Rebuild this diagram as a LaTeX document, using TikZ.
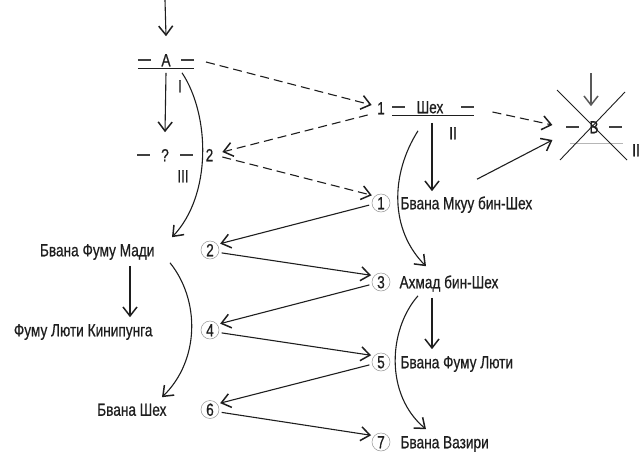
\documentclass[tikz,border=0pt]{standalone}
\usepackage{fontspec}
\setmainfont{Liberation Sans}[FakeStretch=0.78, FakeBold=0.6]
\usetikzlibrary{arrows.meta}
\definecolor{inkgray}{RGB}{30,30,30}
\definecolor{ringgray}{RGB}{150,150,150}

\begin{document}
\begin{tikzpicture}[x=1pt, y=-1pt, line width=1.1pt, inkgray,
				>={Straight Barb[length=9pt, width=14pt, line width=1.5pt]},
				lbl/.style={inner sep=2pt, text height=12.5pt, text depth=0pt, font=\fontsize{17.5pt}{20pt}\selectfont},
				xref/.style={lbl, minimum width=#1},
				num/.style={lbl, circle, draw=ringgray, line width=0.5pt, minimum size=18pt, inner sep=0pt, outer sep=3pt},
				link/.style={->},
				hint/.style={->, dash pattern=on 9pt off 5pt}]
				\useasboundingbox (0,0) rectangle (641,453);
				
				% upper part
				\coordinate (A-top) at (165,0);
				\coordinate (B-top) at (591,73);
				\node[xref=55pt] (A) at (166,60) {A};
				\node[xref=54pt] (q) at (165,155) {?};
				\node[lbl] (two) at (209.5,155) {2};
				\node[lbl] (one) at (381,108) {1};
				\node[xref=80pt] (sheh) at (433,107) {\hspace*{-6pt}Шех};
				\node[xref=54pt] (B) at (594,127) {B};
				\node[lbl] (rA) at (180,86) {I};
				\node[lbl] (rq) at (183,176) {III};
				\node[lbl] (rsheh) at (453,133) {II};
				\node[lbl] (rB) at (636,150) {II};
				
				\draw[line width=1.2pt, black!75] (A.west) -- ++(13,0) (A.east) -- ++(-13,0);
				\draw[line width=1.2pt, black!75] (q.west) -- ++(13,0) (q.east) -- ++(-13,0);
				\draw[line width=1.2pt, black!75] (sheh.west) -- ++(13,0) (sheh.east) -- ++(-13,0);
				\draw[line width=1.2pt, black!75] (B.west) -- ++(13,0) (B.east) -- ++(-13,0);
				\draw (A.south west) -- (A.south east);
				\draw (sheh.south west) -- (sheh.south east);
				\draw[ringgray!70, line width=0.6pt] (570,143) -- (623,143);
				\draw[line width=0.9pt] (557,90) -- (627,160) (625,92) -- (560,160);
				
				% lower part
				\node[num] (n1) at (381,203) {1};
				\node[num] (n2) at (210,250) {2};
				\node[num] (n3) at (381,282) {3};
				\node[num] (n4) at (210,330) {4};
				\node[num] (n5) at (381,362) {5};
				\node[num] (n6) at (210,409.5) {6};
				\node[num] (n7) at (381,442) {7};
				\node[lbl, anchor=west] (mkuu) at (398,203) {Бвана Мкуу бин-Шех};
				\node[lbl, anchor=west] (ahmad) at (397,282) {Ахмад бин-Шех};
				\node[lbl, anchor=west] (lyuti) at (398,362) {Бвана Фуму Люти};
				\node[lbl, anchor=west] (vaziri) at (398,442) {Бвана Вазири};
				\node[lbl, anchor=east] (madi) at (157,250) {Бвана Фуму Мади};
				\node[lbl, anchor=east] (kini) at (155,330) {Фуму Люти Кинипунга};
				\node[lbl, anchor=east] (bsheh) at (169,409.5) {Бвана Шех};
				
				\draw[hint] ([xshift=12pt,yshift=-2pt]A.east) -- ([xshift=-3pt,yshift=3pt]one.west);
				\draw[hint] ([xshift=-7pt,yshift=-7pt]one.west) -- ([xshift=6.5pt,yshift=3pt]two.east);
				\draw[hint] ([xshift=6.5pt,yshift=-2pt]two.east) -- (n1.140);
				\draw[hint] ([xshift=19pt,yshift=-5pt]sheh.east) -- ([xshift=-14pt,yshift=2pt]B.west);
				
				\draw[link] (A-top) -- ([yshift=15pt]A.north);
				\draw[link] ([yshift=-4pt]A.south) -- ([yshift=14pt]q.north);
				\draw[link, black!65] (B-top) -- ([xshift=-3pt,yshift=12pt]B.north);
				\draw[link] ([xshift=-1pt,yshift=-7pt]sheh.south) -- ([xshift=34pt,yshift=3pt]mkuu.north west);
				\draw[link] ([xshift=79pt,yshift=15pt]mkuu.north west) -- ([xshift=-14pt,yshift=-13pt]B.west);
				\draw[link] ([xshift=-15pt,yshift=-15pt]sheh.south) .. controls (390,175) and (390,230) .. ([xshift=29pt,yshift=7pt]ahmad.north west);
				\draw[link] ([xshift=35pt,yshift=-7pt]ahmad.south west) -- ([xshift=34pt,yshift=4pt]lyuti.north west);
				\draw[link] ([xshift=21pt,yshift=-5pt]ahmad.south west) .. controls (388,330) and (385,395) .. ([xshift=28pt,yshift=4pt]vaziri.north west);
				\draw[link] ([xshift=16pt,yshift=-4pt]A.south) .. controls (210,115) and (212,195) .. ([xshift=15pt,yshift=4pt]madi.north east);
				\draw[link] ([xshift=-27pt,yshift=-7pt]madi.south east) -- ([xshift=-25pt,yshift=4pt]kini.north east);
				\draw[link] ([xshift=13pt,yshift=-4pt]madi.south east) .. controls (200,300) and (200,360) .. ([xshift=-7pt,yshift=3.5pt]bsheh.north east);
				
				\draw[link] (n1.190) -- (n2.32);
				\draw[link] (n2.-14) -- (n3.146);
				\draw[link] (n3.194) -- (n4.32);
				\draw[link] (n4.-14) -- (n5.146);
				\draw[link] (n5.194) -- (n6.32);
				\draw[link] (n6.-14) -- (n7.146);
			\end{tikzpicture}
\end{document}
